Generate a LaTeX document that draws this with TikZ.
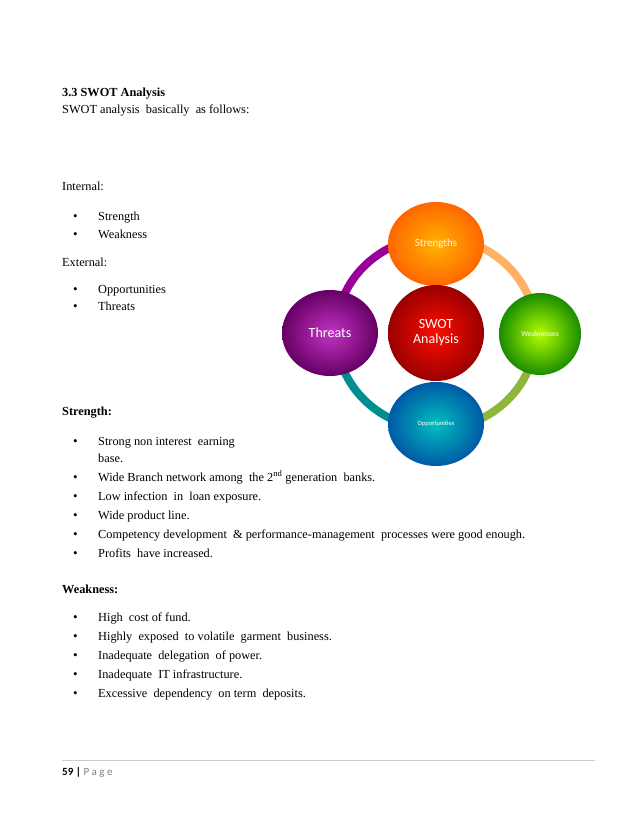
\documentclass[tikz,border=0pt]{standalone}
\usepackage{fontspec}
\setmainfont{Liberation Serif}
\newfontfamily\carl{Carlito}
\begin{document}
\begin{tikzpicture}[x=1pt,y=-1pt,
  txt/.style={anchor=base west,inner sep=0,font=\fontsize{12.3}{14}\selectfont},
  bul/.style={anchor=base west,inner sep=0,font=\fontsize{13}{14}\selectfont}]
\useasboundingbox (0,0) rectangle (638,826);
\fill[white] (0,0) rectangle (638,826);
% ring
\draw[line width=8pt,violet!80!magenta] (336,333) arc[start angle=180,end angle=270,x radius=100,y radius=96];
\draw[line width=8pt,orange!60] (436,237) arc[start angle=270,end angle=360,x radius=100,y radius=96];
\draw[line width=8pt,yellow!60!green!80!black] (536,333) arc[start angle=0,end angle=90,x radius=100,y radius=96];
\draw[line width=8pt,teal!60!cyan!80!black] (436,429) arc[start angle=90,end angle=180,x radius=100,y radius=96];
\shade[inner color=orange!60!yellow,outer color=orange!80!red] (436,244) ellipse[x radius=48,y radius=42];
\node (s) at (436,244) [text=white!90!orange,font=\carl\fontsize{11}{12}\selectfont] {Strengths};
\shade[inner color=violet!60!magenta!80,outer color=violet!80!black] (330,333) ellipse[x radius=48,y radius=43];
\node (t) at (330,333) [text=white,font=\carl\fontsize{14}{15}\selectfont] {Threats};
\shade[inner color=yellow!70!green,outer color=green!50!black!90!yellow] (540,334) ellipse[x radius=41,y radius=41];
\node (w) at (540,334) [text=white,font=\carl\fontsize{7.5}{8}\selectfont] {Weaknesses};
\shade[inner color=cyan!50!teal,outer color=teal!70!blue] (436,424) ellipse[x radius=48,y radius=42];
\node (o) at (436,424) [text=white,font=\carl\fontsize{6.5}{7}\selectfont] {Opportunities};
\shade[inner color=red!90!orange,outer color=red!60!black] (436,333) ellipse[x radius=48,y radius=48];
\node (c) at (436,333) [text=white,align=center,font=\carl\fontsize{14}{15}\selectfont] {SWOT\\Analysis};
% text
\node[txt,font=\bfseries\fontsize{12.3}{14}\selectfont] at (62,97) {3.3 SWOT Analysis};
\node[txt] at (62,114) {SWOT analysis\ \ basically\ \ as follows:};
\node[txt] at (62,191) {Internal:};
\foreach \y/\t in {220/Strength,238/Weakness,293/Opportunities,310/Threats}{
  \node[bul] at (73,\y) {\textbullet}; \node[txt] at (98,\y) {\t};}
\node[txt] at (62,266) {External:};
\node[txt,font=\bfseries\fontsize{12.3}{14}\selectfont] at (62,415) {Strength:};
\foreach \y/\t in {445/Strong non interest\ \ earning,
  481/Wide Branch network among\ \ the 2\textsuperscript{nd} generation\ \ banks.,
  500/Low infection\ \ in\ \ loan exposure.,
  519/Wide product line.,
  538/Competency development\ \ \& performance-management\ \ processes were good enough.,
  557/Profits\ \ have increased.,
  621/High\ \ cost of fund.,
  640/Highly\ \ exposed\ \ to volatile\ \ garment\ \ business.,
  659/Inadequate\ \ delegation\ \ of power.,
  678/Inadequate\ \ IT infrastructure.,
  697/Excessive\ \ dependency\ \ on term\ \ deposits.}{
  \node[bul] at (73,\y) {\textbullet}; \node[txt] at (98,\y) {\t};}
\node[txt] at (98,462) {base.};
\node[txt,font=\bfseries\fontsize{12.3}{14}\selectfont] at (62,593) {Weakness:};
\draw[gray!40,line width=0.6pt] (62,760) -- (595,760);
\node[txt,font=\carl\fontsize{11}{12}\selectfont] at (62,775) {\textbf{59 |} \textcolor{gray}{P a g e}};
\end{tikzpicture}
\end{document}
